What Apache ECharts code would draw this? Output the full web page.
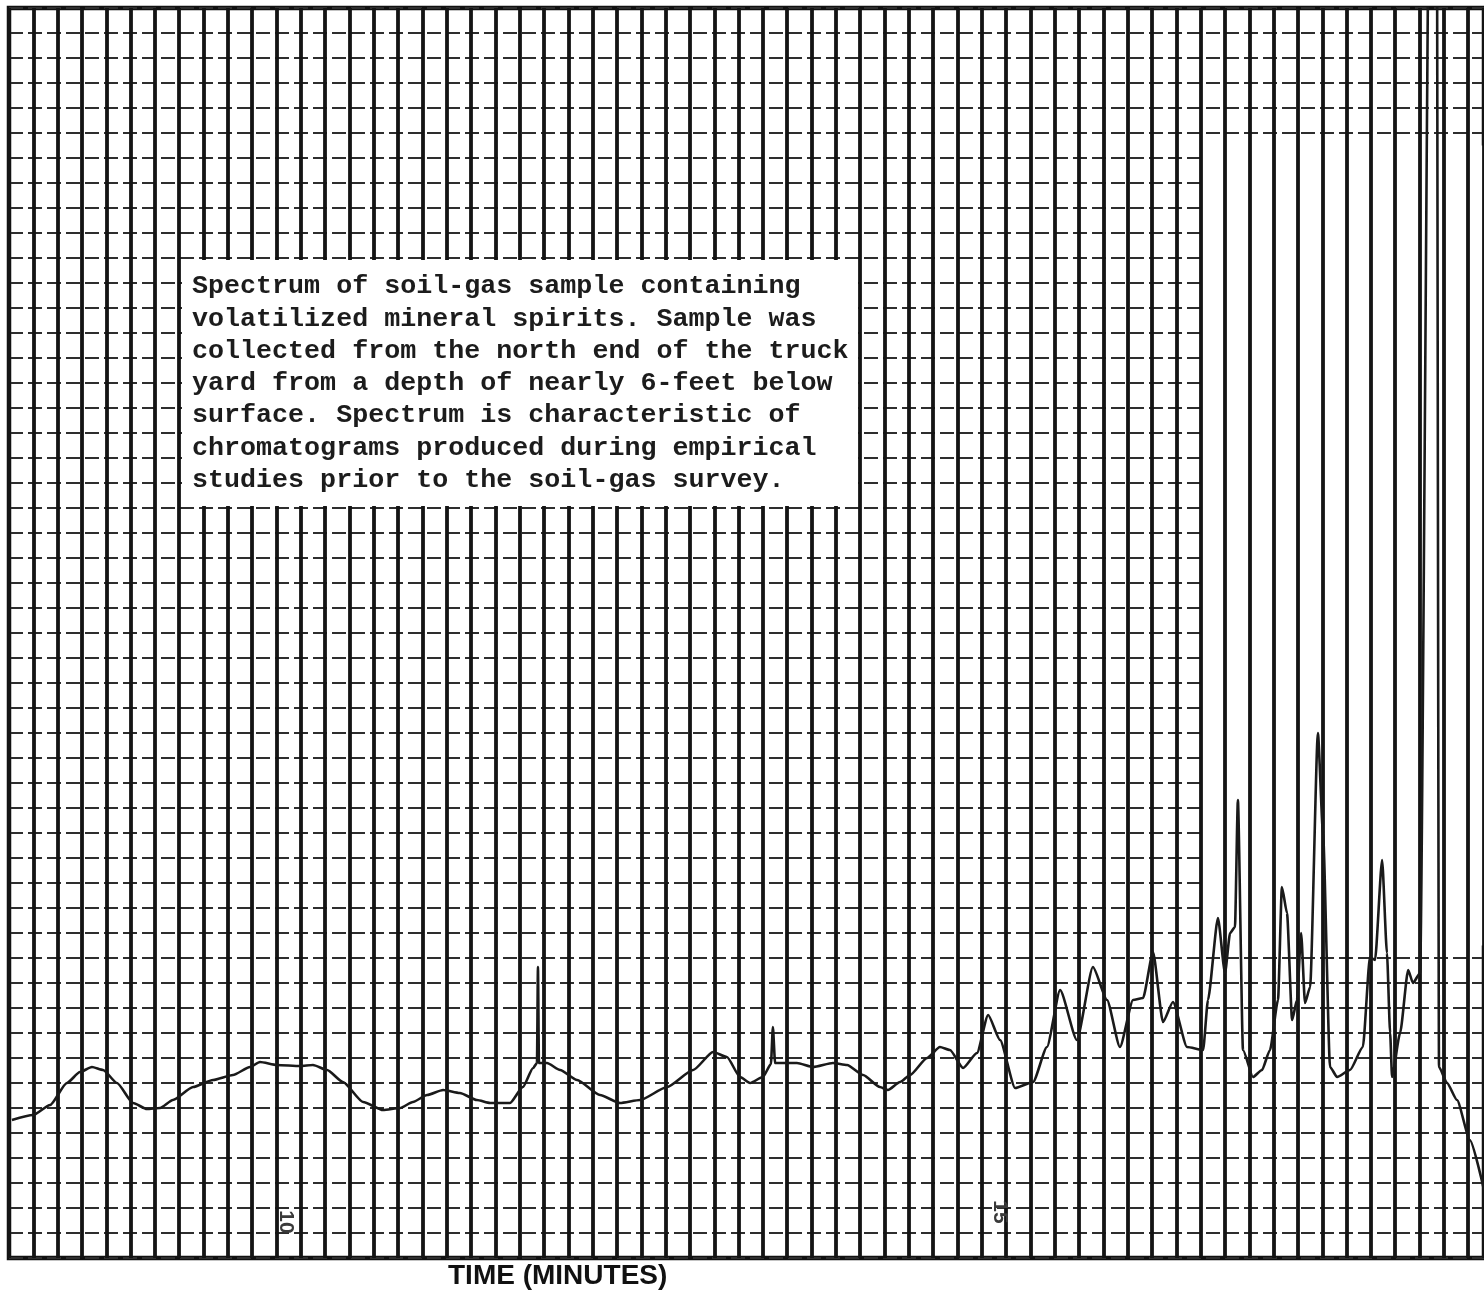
<!DOCTYPE html>
<html>
<head>
    <meta charset="utf-8">
    <title>Soil-gas chromatogram</title>
    <script src="https://cdn.jsdelivr.net/npm/echarts@6/dist/echarts.min.js"></script>
    <style>
        html, body { margin: 0; padding: 0; background: #fff; }
        #chart { width: 1484px; height: 1290px; }
    </style>
</head>
<body>
<div id="chart"></div>
<script type="text/javascript">
    // time in chart-paper divisions, detector signal in divisions
    var timeDiv = [
        0.12, 0.99, 1.69, 2.38, 2.92, 3.41, 3.87, 4.44, 5.10, 5.67,
        6.21, 6.74, 7.57, 8.39, 9.21, 9.91, 10.32, 11.02, 11.97, 12.50,
        13.08, 13.73, 14.56, 15.38, 16.08, 16.61, 17.19, 17.85, 18.54, 19.24,
        19.78, 20.60, 21.13, 21.55, 21.71, 21.75, 21.79, 22.12, 22.66, 23.36,
        24.30, 25.12, 25.95, 27.06, 28.13, 28.95, 29.52, 30.06, 30.47, 31.00,
        31.33, 31.41, 31.50, 31.70, 32.40, 33.06, 33.88, 34.46, 35.12, 35.81,
        36.14, 36.64, 37.05, 37.75, 38.28, 38.69, 39.23, 39.80, 40.26, 40.75,
        41.37, 42.11, 42.68, 43.22, 43.91, 44.57, 45.15, 45.68, 46.22, 46.63,
        47.04, 47.45, 47.86, 48.44, 49.10, 49.30, 49.71, 50.00, 50.21, 50.41,
        50.53, 50.74, 51.15, 51.52, 51.85, 52.18, 52.34, 52.55, 52.76, 52.96,
        53.13, 53.29, 53.50, 53.82, 54.03, 54.32, 54.61, 55.14, 55.67, 55.96,
        56.17, 56.46, 56.66, 56.79, 56.87, 57.20, 57.53, 57.73, 58.02, 58.45,
        58.70, 58.80, 59.13, 59.54, 60.07, 60.65
    ];
    var signal = [
        5.52, 5.72, 6.12, 7.00, 7.44, 7.64, 7.52, 7.00, 6.20, 5.96,
        6.00, 6.32, 6.84, 7.12, 7.32, 7.64, 7.84, 7.72, 7.68, 7.72,
        7.52, 7.04, 6.24, 5.92, 6.00, 6.24, 6.52, 6.72, 6.60, 6.32,
        6.20, 6.20, 6.84, 7.60, 7.80, 11.64, 7.80, 7.80, 7.52, 7.12,
        6.52, 6.20, 6.32, 6.84, 7.52, 8.24, 8.04, 7.24, 7.00, 7.24,
        7.76, 9.24, 7.80, 7.80, 7.80, 7.64, 7.80, 7.72, 7.32, 6.84,
        6.72, 7.04, 7.32, 8.00, 8.44, 8.32, 7.60, 8.20, 9.72, 8.72,
        6.80, 7.04, 8.44, 10.72, 8.72, 11.64, 10.32, 8.44, 10.32, 10.40,
        12.24, 9.44, 10.24, 8.44, 8.32, 10.32, 13.60, 11.40, 13.00, 13.24,
        18.32, 8.32, 7.24, 7.52, 8.32, 10.32, 14.84, 13.80, 9.52, 10.32,
        13.00, 10.20, 10.84, 21.00, 17.00, 7.64, 7.24, 7.52, 8.44, 12.04,
        11.92, 15.92, 12.20, 9.00, 7.24, 9.00, 11.52, 11.00, 11.40, 60,
        60, 7.64, 7.00, 6.32, 4.72, 2.72
    ];
    // paper extent (divisions) and the patch where the horizontal rulings faded out
    var xRange = [0, 60.65];
    var yRange = [0, 50];
    var fadedPatch = [[49.2, 12.5], [60.65, 44.5]];
    var noteLines = [
        'Spectrum of soil-gas sample containing',
        'volatilized mineral spirits. Sample was',
        'collected from the north end of the truck',
        'yard from a depth of nearly 6-feet below',
        'surface. Spectrum is characteristic of',
        'chromatograms produced during empirical',
        'studies prior to the soil-gas survey.'
    ];
    var axisTitle = 'TIME (MINUTES)';
    var minuteMarks = ['10', '15'];

    var traceData = timeDiv.map(function (t, i) { return [t, signal[i]]; });

    var myChart = echarts.init(document.getElementById('chart'));

    var noteText = [];
    noteLines.forEach(function (s, i) {
        noteText.push({
            type: 'text', z: 101, left: 192, top: 273 + i * 32.3,
            style: { text: s, fill: '#1c1c1c', font: 'bold 26.7px "Liberation Mono"' }
        });
    });

    myChart.setOption({
        animation: false,
        backgroundColor: '#fff',
        grid: {
            left: 9, right: 0, top: 8, bottom: 32,
            show: true, borderColor: '#111', borderWidth: 4.5, backgroundColor: '#fff'
        },
        xAxis: {
            type: 'value', min: xRange[0], max: xRange[1], interval: 1, z: 2,
            axisLine: { show: false }, axisTick: { show: false }, axisLabel: { show: false },
            splitLine: { show: true, lineStyle: { color: '#141414', width: 3.8 } }
        },
        yAxis: {
            type: 'value', min: yRange[0], max: yRange[1], interval: 1, z: 0,
            axisLine: { show: false }, axisTick: { show: false }, axisLabel: { show: false },
            splitLine: { show: true, lineStyle: { color: '#2e2e2e', width: 2.2, type: [14, 5] } }
        },
        series: [
            {
                // blank out the faded rulings, vertical lines drawn above it
                type: 'line', data: [], z: 1, silent: true,
                markArea: {
                    silent: true,
                    itemStyle: { color: '#fff' },
                    data: [[{ coord: fadedPatch[0] }, { coord: fadedPatch[1] }]]
                }
            },
            {
                type: 'line',
                data: traceData,
                z: 3,
                clip: true,
                showSymbol: false,
                smooth: 0.2,
                smoothMonotone: 'x',
                lineStyle: { color: '#1a1a1a', width: 2.6 }
            }
        ],
        graphic: [
            {
                type: 'rect', z: 100, shape: { x: 182, y: 260, width: 676, height: 246 },
                style: { fill: '#fff' }
            },
            {
                type: 'text', z: 101, left: 448, top: 1262,
                style: { text: axisTitle, fill: '#111', font: 'bold 28px "Liberation Sans"' }
            },
            {
                type: 'text', z: 101, x: 286, y: 1222, rotation: -Math.PI / 2,
                style: { text: minuteMarks[0], fill: '#3a3a3a', font: 'bold 21px "Liberation Sans"', align: 'center', verticalAlign: 'middle' }
            },
            {
                type: 'text', z: 101, x: 1000, y: 1212, rotation: -Math.PI / 2,
                style: { text: minuteMarks[1], fill: '#3a3a3a', font: 'bold 21px "Liberation Sans"', align: 'center', verticalAlign: 'middle' }
            }
        ].concat(noteText)
    });
</script>
</body>
</html>
